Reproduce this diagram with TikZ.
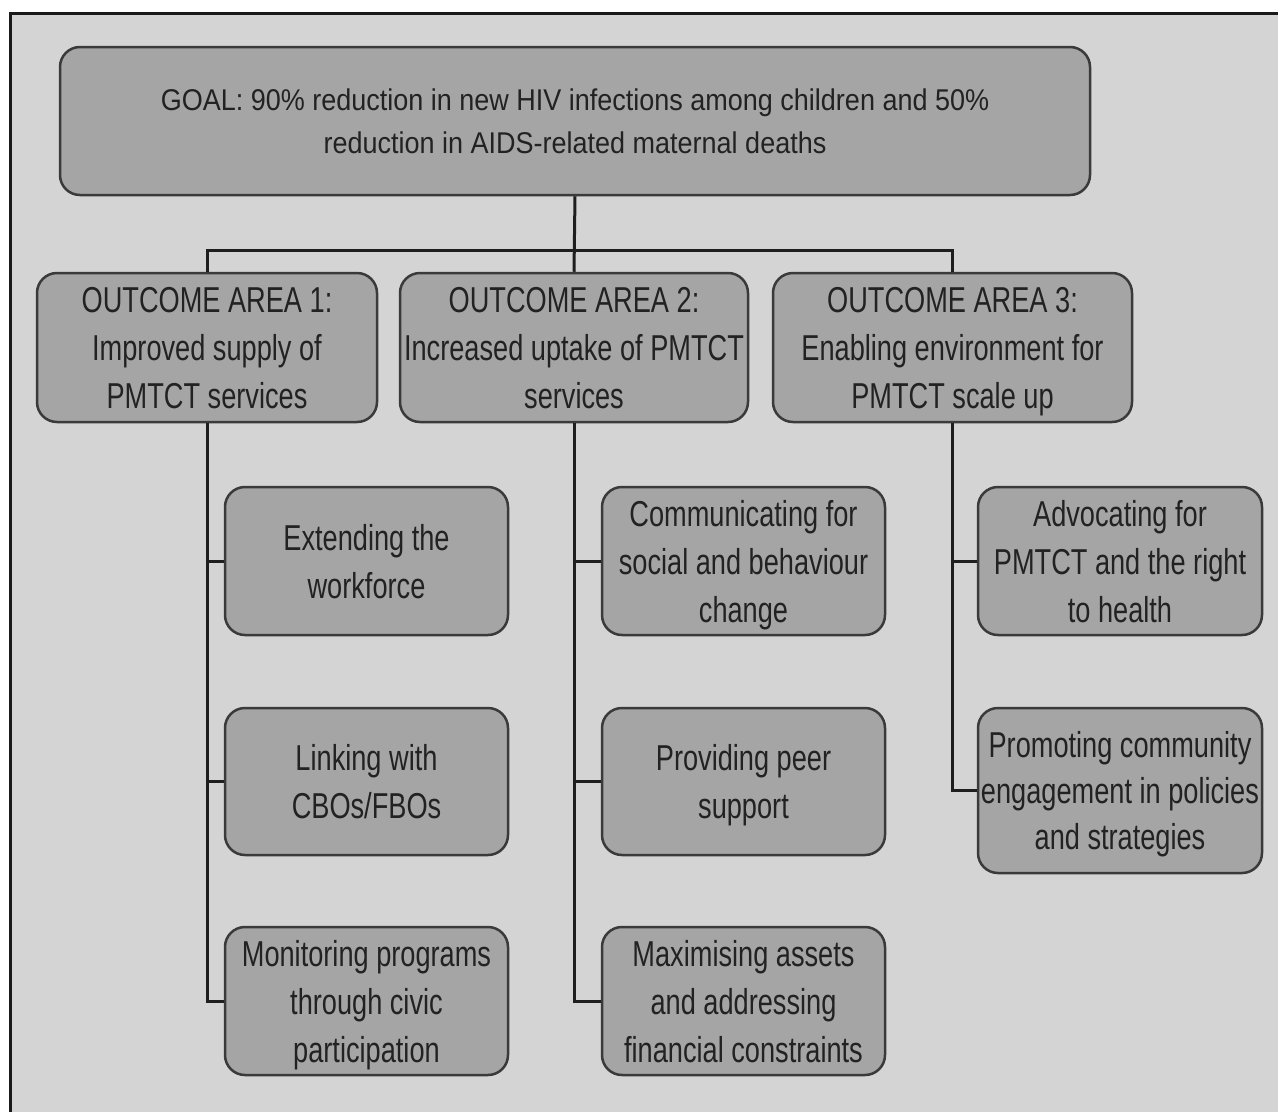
\documentclass[tikz,border=0pt]{standalone}
\usepackage{fontspec}
\setmainfont{Liberation Sans}
\newfontfamily\goalfont{Liberation Sans}[FakeStretch=0.9]
\newfontfamily\boxfont{Liberation Sans}[FakeStretch=0.755]
\newcommand\bs{\rule[-8pt]{0pt}{42pt}}
\definecolor{bg}{HTML}{D4D4D4}
\definecolor{boxfill}{HTML}{A5A5A5}
\definecolor{boxline}{HTML}{3A3A3A}
\definecolor{conline}{HTML}{1E1E1E}
\definecolor{txt}{HTML}{222222}
\definecolor{frameline}{HTML}{1A1A1A}
\tikzset{
  boxbase/.style={draw=boxline, fill=boxfill, rounded corners=20pt, line width=2.5pt,
    inner sep=0pt, align=center, text=txt},
  box/.style={boxbase, font=\boxfont\fontsize{36}{48}\selectfont},
  goalbox/.style={boxbase, font=\goalfont\fontsize{30}{43}\selectfont},
  conn/.style={draw=conline, line width=3pt},
}
\begin{document}
\begin{tikzpicture}[x=1pt, y=-1pt]
\useasboundingbox (0,0) rectangle (1278,1112);
\fill[white] (0,0) rectangle (1278,1112);
\fill[bg] (10,13) rectangle (1278,1112);
\draw[frameline, line width=3pt] (10,1112) -- (10,13) -- (1278,13);

\node[goalbox, minimum width=1030pt, minimum height=148pt] (goal) at (575,121)
  {GOAL: 90\% reduction in new HIV infections among children and 50\%\\reduction in AIDS-related maternal deaths};

\node[box, minimum width=340pt, minimum height=149pt] (o1) at (207,347.5)
  {\bs OUTCOME AREA 1:\\Improved supply of\\PMTCT services\bs};
\node[box, minimum width=348pt, minimum height=149pt] (o2) at (574,347.5)
  {\bs OUTCOME AREA 2:\\Increased uptake of PMTCT\\services\bs};
\node[box, minimum width=359pt, minimum height=149pt] (o3) at (952.5,347.5)
  {\bs OUTCOME AREA 3:\\Enabling environment for\\PMTCT scale up\bs};

\node[box, minimum width=283pt, minimum height=148pt] (c11) at (366.5,561)
  {\bs Extending the\\workforce\bs};
\node[box, minimum width=283pt, minimum height=147pt] (c12) at (366.5,781.5)
  {\bs Linking with\\CBOs/FBOs\bs};
\node[box, minimum width=283pt, minimum height=148pt] (c13) at (366.5,1001)
  {\bs Monitoring programs\\through civic\\participation\bs};

\node[box, minimum width=283pt, minimum height=148pt] (c21) at (743.5,561)
  {\bs Communicating for\\social and behaviour\\change\bs};
\node[box, minimum width=283pt, minimum height=147pt] (c22) at (743.5,781.5)
  {\bs Providing peer\\support\bs};
\node[box, minimum width=283pt, minimum height=148pt] (c23) at (743.5,1001)
  {\bs Maximising assets\\and addressing\\financial constraints\bs};

\node[box, minimum width=284pt, minimum height=148pt] (c31) at (1120,561)
  {\bs Advocating for\\PMTCT and the right\\to health\bs};
\node[box, minimum width=284pt, minimum height=165pt, font=\boxfont\fontsize{36}{46}\selectfont] (c32) at (1120,790.5)
  {\bs Promoting community\\engagement in policies\\and strategies\bs};

\coordinate (hb) at (575,250);
\draw[conn] (goal.south) -- (o2.north);
\draw[conn] (o1.north) |- (hb) -| (o3.north);

\draw[conn] (o1.south) |- (c11.west);
\draw[conn] (o1.south) |- (c12.west);
\draw[conn] (o1.south) |- (c13.west);
\draw[conn] (o2.south) |- (c21.west);
\draw[conn] (o2.south) |- (c22.west);
\draw[conn] (o2.south) |- (c23.west);
\draw[conn] (o3.south) |- (c31.west);
\draw[conn] (o3.south) |- (c32.west);
\end{tikzpicture}
\end{document}
